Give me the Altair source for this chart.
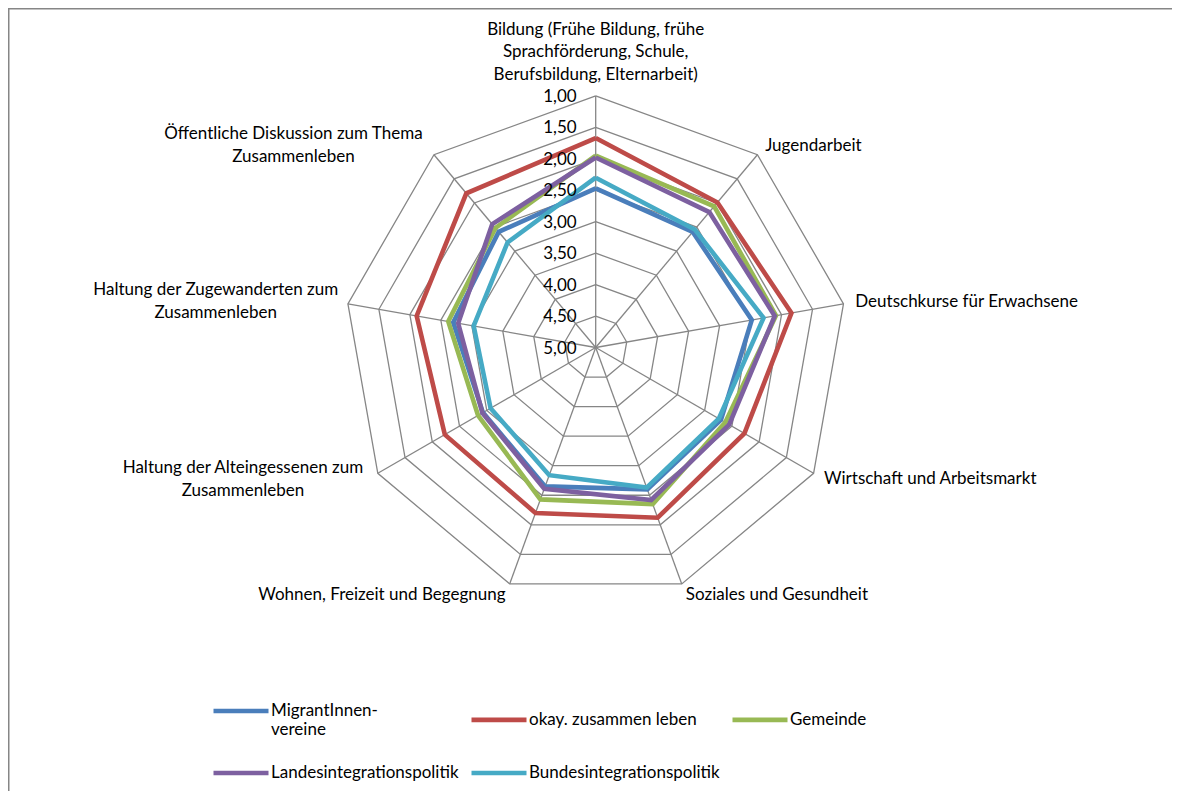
import altair as alt
import pandas as pd

# ---------------- data ----------------
categories = [
    "Bildung (Frühe Bildung, frühe\nSprachförderung, Schule,\nBerufsbildung, Elternarbeit)",
    "Jugendarbeit",
    "Deutschkurse für Erwachsene",
    "Wirtschaft und Arbeitsmarkt",
    "Soziales und Gesundheit",
    "Wohnen, Freizeit und Begegnung",
    "Haltung der Alteingessenen zum\nZusammenleben",
    "Haltung der Zugewanderten zum\nZusammenleben",
    "Öffentliche Diskussion zum Thema\nZusammenleben",
]
series_names = [
    "MigrantInnen-\nvereine",
    "okay. zusammen leben",
    "Gemeinde",
    "Landesintegrationspolitik",
    "Bundesintegrationspolitik",
]
series_colors = ["#4A7EBB", "#BE4B48", "#98B954", "#7D60A0", "#46AAC5"]

migranten = [2.47, 2.60, 2.48, 2.70, 2.60, 2.65, 2.93, 2.70, 2.60]
okay = [1.67, 1.99, 1.84, 2.27, 2.12, 2.20, 2.23, 2.11, 1.80]
gemeinde = [1.95, 2.07, 2.09, 2.62, 2.35, 2.43, 2.84, 2.62, 2.52]
landes = [1.98, 2.19, 2.11, 2.55, 2.42, 2.61, 2.92, 2.78, 2.44]
bundes = [2.30, 2.55, 2.29, 2.74, 2.63, 2.84, 3.07, 3.03, 2.82]
series_values = [migranten, okay, gemeinde, landes, bundes]

tick_values = [1.0, 1.5, 2.0, 2.5, 3.0, 3.5, 4.0, 4.5, 5.0]
tick_labels = ["1,00", "1,50", "2,00", "2,50", "3,00", "3,50", "4,00", "4,50", "5,00"]

# ---------------- layout constants ----------------
W, H = 1164, 783
UNIT = 62.9          # px per value step
CX, CY = 587.7, 339.5
XMIN, XMAX = -CX / UNIT, (W - CX) / UNIT
YMIN, YMAX = -(H - CY) / UNIT, CY / UNIT
FONT = "Lato"
FS = 17
LH = 22.5
GRID = "#868686"
N = len(categories)

xs = alt.Scale(domain=[XMIN, XMAX], nice=False, zero=False)
ys = alt.Scale(domain=[YMIN, YMAX], nice=False, zero=False)
cscale = alt.Scale(domain=series_names, range=series_colors)

def polar(ch, rexpr="5 - datum.value"):
    return ch.transform_calculate(
        ang=f"datum.idx * 2 * PI / {N}",
    ).transform_calculate(
        r=rexpr
    ).transform_calculate(
        px="datum.r * sin(datum.ang)",
        py="datum.r * cos(datum.ang)",
    )

X = alt.X("px:Q", scale=xs, axis=None)
Y = alt.Y("py:Q", scale=ys, axis=None)

# rings
rings_df = pd.DataFrame(
    [{"level": v, "idx": i % N, "ord": i, "value": v} for v in tick_values[:-1] for i in range(N + 1)]
)
rings = polar(alt.Chart(rings_df)).mark_line(color=GRID, strokeWidth=1.3).encode(
    x=X, y=Y, detail="level:N", order="ord:Q"
)

# spokes
spokes_df = pd.DataFrame({"idx": list(range(N)), "value": [tick_values[0]] * N})
spokes = polar(alt.Chart(spokes_df)).transform_calculate(zx="0", zy="0").mark_rule(
    color=GRID, strokeWidth=1.3
).encode(
    x=alt.X("zx:Q", scale=xs, axis=None), y=alt.Y("zy:Q", scale=ys, axis=None),
    x2="px:Q", y2="py:Q"
)

legend = alt.Legend(
    orient="none", legendX=203, legendY=673, columns=3, direction="horizontal", title=None,
    symbolType="stroke", symbolSize=3025, symbolStrokeWidth=4.6,
    labelFont=FONT, labelFontSize=FS, labelColor="#000000", labelOffset=0,
    labelLimit=500, columnPadding=3, rowPadding=5, padding=0,
    labelExpr="split(datum.label, '\\n')",
)

series_layers = []
for name, vals in zip(series_names, series_values):
    df = pd.DataFrame({
        "series": [name] * (N + 1),
        "idx": [i % N for i in range(N + 1)],
        "ord": list(range(N + 1)),
        "value": [vals[i % N] for i in range(N + 1)],
    })
    series_layers.append(
        polar(alt.Chart(df)).mark_line(strokeWidth=4.6, strokeJoin="miter").encode(
            x=X, y=Y, order="ord:Q",
            color=alt.Color("series:N", scale=cscale, legend=legend),
        )
    )

# value tick labels
ticks_df = pd.DataFrame({"idx": [0] * len(tick_values), "value": tick_values, "label": tick_labels})
ticks = polar(alt.Chart(ticks_df)).mark_text(
    align="right", baseline="middle", dx=-19, dy=1, font=FONT, fontSize=FS, color="#000000"
).encode(x=X, y=Y, text="label:N")

# category labels
LR = 4 + 12 / UNIT
CHARW = 8.3
cat_df = pd.DataFrame({"idx": list(range(N)), "label": categories})
def cat_base():
    return alt.Chart(cat_df).transform_calculate(
        ang=f"datum.idx * 2 * PI / {N}"
    ).transform_calculate(
        s="sin(datum.ang)", c="cos(datum.ang)",
        nl="length(split(datum.label, '\\n'))",
    )

def cat_xy(ch, shift="0", vshift="0"):
    return ch.transform_calculate(
        lx=f"{LR} * datum.s - ({shift})",
        ly=f"{LR} * datum.c + ({vshift})",
    )

MID_SHIFT = f"(datum.nl - 1) * {LH} / 2 / {UNIT}"
BOT_SHIFT = f"(datum.nl - 1) * {LH} / {UNIT}"

LX = alt.X("lx:Q", scale=xs, axis=None)
LY = alt.Y("ly:Q", scale=ys, axis=None)
tstyle = dict(font=FONT, fontSize=FS, color="#000000", lineBreak="\n", lineHeight=LH)

right_lbl = cat_xy(cat_base().transform_filter("datum.s > 0.1"), vshift=MID_SHIFT).mark_text(
    align="left", baseline="middle", **tstyle).encode(x=LX, y=LY, text="label:N")
top_lbl = cat_xy(cat_base().transform_filter("abs(datum.s) <= 0.1"), vshift=BOT_SHIFT).mark_text(
    align="center", baseline="bottom", **tstyle).encode(x=LX, y=LY, text="label:N")
left_single = cat_xy(cat_base().transform_filter("datum.s < -0.1 && datum.nl == 1")).mark_text(
    align="right", baseline="middle", **tstyle).encode(x=LX, y=LY, text="label:N")
left_multi = cat_xy(
    cat_base().transform_filter("datum.s < -0.1 && datum.nl > 1").transform_calculate(
        l0="length(split(datum.label, '\\n')[0])",
        l1="length(split(datum.label, '\\n')[1])",
    ),
    shift=f"max(datum.l0, datum.l1) * {CHARW} / 2 / {UNIT}",
    vshift=MID_SHIFT,
).mark_text(align="center", baseline="middle", **tstyle).encode(x=LX, y=LY, text="label:N")

# frame (top and left border lines)
frame_top = alt.Chart(pd.DataFrame({"a": [0]})).mark_rule(color=GRID, strokeWidth=1.5).encode(
    x=alt.value(0), x2=alt.value(W), y=alt.value(0.75))
frame_left = alt.Chart(pd.DataFrame({"a": [0]})).mark_rule(color=GRID, strokeWidth=1.5).encode(
    x=alt.value(0.75), y=alt.value(0), y2=alt.value(H))

chart = alt.layer(
    rings, spokes, *series_layers, ticks, right_lbl, top_lbl, left_single, left_multi,
    frame_top, frame_left,
).properties(
    width=W, height=H, autosize=alt.AutoSizeParams(type="none"), padding=0,
    background="white",
    view=alt.ViewBackground(stroke="transparent", strokeWidth=0),
).configure_view(strokeWidth=0, stroke="transparent")

chart.save("out.html", embed_options={"renderer": "svg", "actions": False})
